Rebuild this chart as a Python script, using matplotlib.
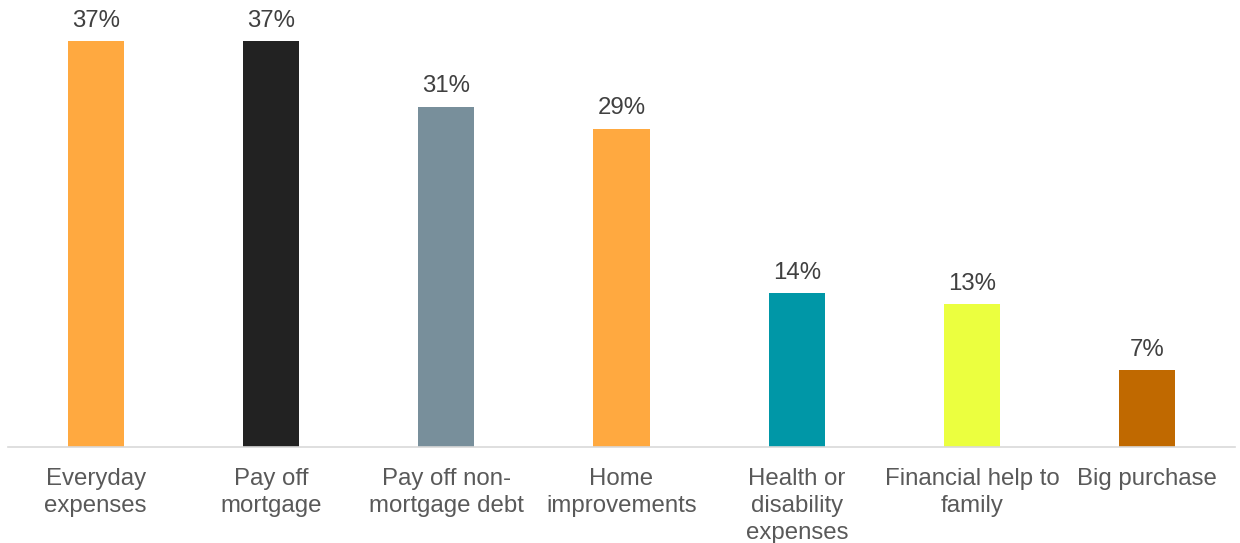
import matplotlib
matplotlib.use("Agg")
from matplotlib import pyplot as plt

plt.rcParams['font.family'] = ['Liberation Sans', 'DejaVu Sans']

categories = ["Everyday\nexpenses", "Pay off\nmortgage", "Pay off non-\nmortgage debt",
              "Home\nimprovements", "Health or\ndisability\nexpenses",
              "Financial help to\nfamily", "Big purchase"]
shares = [37, 37, 31, 29, 14, 13, 7]
colors = ["#FFA940", "#222222", "#788F9B", "#FFA940", "#0097A7", "#EBFF3F", "#C06900"]

fig = plt.figure(figsize=(12.4, 5.43), dpi=100)
ax = fig.add_axes([8 / 1240, 0.1768, 1227 / 1240, 0.808])

x = range(len(shares))
bars = ax.bar(x, shares, width=0.32, color=colors, zorder=2)

# percentage label above each bar
for b, v in zip(bars, shares):
    ax.annotate(f"{v}%", (b.get_x() + b.get_width() / 2, v), xytext=(0, 10.5),
                textcoords="offset points", ha="center", va="baseline",
                fontsize=17.3, color="#404040")

ax.set_xlim(-0.5, len(shares) - 0.5)
ax.set_ylim(0, 40)
ax.set_xticks(list(x))
ax.set_xticklabels(categories, fontsize=17.3, color="#595959", linespacing=1.3)
ax.tick_params(axis="x", length=0, pad=15)
ax.set_yticks([])
for s in ["top", "left", "right"]:
    ax.spines[s].set_visible(False)
ax.spines["bottom"].set_color("#D9D9D9")
ax.spines["bottom"].set_linewidth(1.2)

fig.savefig("out.png", dpi=100)
